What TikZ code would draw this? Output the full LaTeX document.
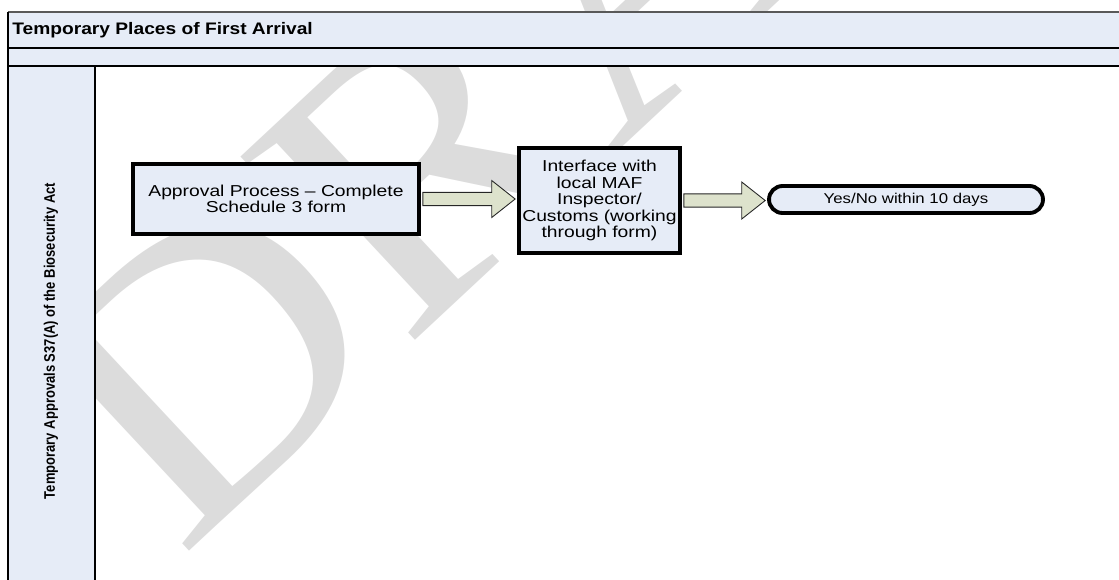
\documentclass[tikz,border=0pt]{standalone}
\usepackage{fontspec}
\setmainfont{Liberation Sans}
\newfontfamily\titlefont[FakeStretch=1.15]{Liberation Sans}
\newfontfamily\stepfont[FakeStretch=1.22]{Liberation Sans}
\newfontfamily\endfont[FakeStretch=1.18]{Liberation Sans}
\newfontfamily\lanefont[FakeStretch=0.85]{Liberation Sans}
\newfontfamily\draftfont{Liberation Serif}
\usepackage{tikz}
\usetikzlibrary{calc,positioning,shapes.misc}
\definecolor{paleblue}{HTML}{E6ECF7}
\definecolor{palegreen}{HTML}{DDE2CC}
\definecolor{draftgray}{HTML}{DCDCDC}

\begin{document}
\begin{tikzpicture}[x=0.02cm,y=-0.02cm,
    laneline/.style={draw=black,line width=0.8pt},
    procbox/.style={draw=black,line width=2.2pt,fill=paleblue,align=center,inner sep=0pt,
      font=\stepfont\fontsize{9}{9.35}\selectfont},
    endbox/.style={rounded rectangle,draw=black,line width=2.2pt,fill=paleblue,inner sep=0pt,
      minimum width=5.48cm,minimum height=0.54cm,font=\endfont\fontsize{8.1}{9}\selectfont},
    fatarrow/.style={draw=black!85,line width=0.5pt,fill=palegreen,
      to path={let \p1=(\tikztostart), \p2=(\tikztotarget) in
        (\x1,\y1+3.8pt) -- (\x2-13.3pt,\y1+3.8pt) -- (\x2-13.3pt,\y1+10.5pt) -- (\x2,\y1)
        -- (\x2-13.3pt,\y1-10.5pt) -- (\x2-13.3pt,\y1-3.8pt) -- (\x1,\y1-3.8pt) -- cycle}}]
  \clip (0,0) rectangle (1119,579);
  \useasboundingbox (0,0) rectangle (1119,579);

  % watermark
  \node[rotate=43,anchor=base west,inner sep=0pt,text=draftgray,xscale=1.1,
    font=\draftfont\fontsize{220}{220}\selectfont] (draft) at (180,560) {DRAFT};

  % pool and lane
  \fill[paleblue] (8,12) rectangle (1130,66);
  \fill[paleblue] (8,66) rectangle (95,600);
  \draw[draw=black!65,line width=1.1pt] (8,12) -- (1130,12);
  \draw[laneline] (8,48) -- (1130,48) (8,66) -- (1130,66);
  \draw[laneline] (8,12) -- (8,600) (95,66) -- (95,600);

  \node[anchor=west,inner sep=0pt,font=\titlefont\bfseries\fontsize{9.5}{10}\selectfont]
    (pool) at (12,30) {Temporary Places of First Arrival};
  \node[rotate=90,inner sep=0pt,font=\lanefont\bfseries\fontsize{8.7}{10}\selectfont]
    (lane) at (51,341) {Temporary Approvals S37(A) of the Biosecurity Act};

  % steps
  \node[procbox,minimum width=5.72cm,minimum height=1.4cm] (apply) at (276,199)
    {Approval Process – Complete\\Schedule 3 form};
  \node[procbox,minimum width=3.22cm,minimum height=2.1cm] (inspect) at (599.5,200.5)
    {Interface with\\local MAF\\Inspector/\\Customs (working\\through form)};
  \node[endbox] (answer) at (906,199.5) {Yes/No within 10 days};

  \draw[fatarrow] ([xshift=1.1pt]apply.east) to ([xshift=-1.1pt]inspect.west);
  \draw[fatarrow] ([xshift=1.1pt]inspect.east) to ([xshift=-1.1pt]answer.west);
\end{tikzpicture}
\end{document}
